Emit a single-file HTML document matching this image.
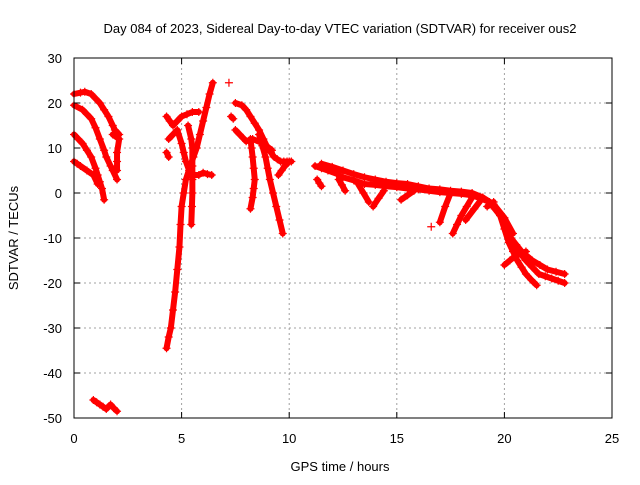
<!DOCTYPE html>
<html><head><meta charset="utf-8"><style>
body{margin:0;background:#fff}
text{font-family:"Liberation Sans",sans-serif;font-size:13px;fill:#000}
</style></head><body>
<svg id="chart" width="640" height="480" xmlns="http://www.w3.org/2000/svg">
<rect width="640" height="480" fill="#fff"/>
<text x="340" y="33" text-anchor="middle">Day 084 of 2023, Sidereal Day-to-day VTEC variation (SDTVAR) for receiver ous2</text>
<g id="grid"></g>
<g id="series"></g>
<rect x="74" y="58" width="538" height="360" fill="none" stroke="#000" stroke-width="1"/>
<g id="ticks"></g>
<text x="340" y="471" text-anchor="middle">GPS time / hours</text>
<text x="18" y="238" text-anchor="middle" transform="rotate(-90 18 238)">SDTVAR / TECUs</text>
</svg>
<script>
const xTicks=[0,5,10,15,20,25];
const yTicks=[30,20,10,0,-10,-20,-30,-40,-50];
const tracks=[
[[0,22],[0.3,22.3],[0.5,22.5],[0.8,22],[1.0,21],[1.2,20],[1.4,18.5],[1.6,17],[1.8,15],[1.9,14],[2.1,13]],
[[0,19.5],[0.4,18.5],[0.6,17.5],[0.8,16.5],[1.0,14.5],[1.2,12],[1.4,9.5],[1.5,8],[1.7,6],[1.8,5],[2.0,3]],
[[0,13],[0.2,12],[0.4,11],[0.6,9.5],[0.8,8],[1.0,5.5],[1.1,4],[1.2,2.5],[1.3,1],[1.4,-1.5]],
[[0,7],[0.15,6.5],[0.3,6],[0.6,5],[0.9,4],[1.1,2]],
[[1.8,13],[2.1,12],[2.0,9],[2.0,7],[2.0,5]],
[[0.9,-46],[1.05,-46.5],[1.2,-47],[1.35,-47.5],[1.5,-48],[1.7,-47],[1.85,-47.8],[2.0,-48.5]],
[[4.3,-34.5],[4.4,-32],[4.5,-30],[4.6,-26],[4.7,-22],[4.8,-17],[4.9,-12],[4.95,-7],[5.0,-3],[5.1,0],[5.2,3],[5.4,6],[5.55,8],[5.7,10],[5.85,13],[6.0,16],[6.15,19],[6.3,22],[6.45,24.5]],
[[4.3,17],[4.45,16],[4.6,15],[4.8,16],[5.0,17],[5.25,17.5],[5.5,18],[5.8,18]],
[[4.4,12],[4.6,13],[4.8,14],[5.0,11],[5.1,9],[5.2,7],[5.35,5],[5.5,4]],
[[5.3,15],[5.45,12],[5.5,10],[5.5,6],[5.5,3],[5.5,0],[5.48,-3],[5.45,-7]],
[[5.4,4],[5.6,4],[5.8,4],[6.0,4.5],[6.2,4.2],[6.4,4]],
[[4.3,9],[4.4,8]],
[[7.2,24.5]],[[7.3,17],[7.4,16.5]],
[[7.5,20],[7.8,19.5],[8.0,18.5],[8.2,17],[8.4,15.5],[8.6,14],[8.8,12],[9.0,10],[9.15,9],[9.3,8],[9.45,7.5],[9.6,7],[9.75,7],[9.9,7]],
[[8.2,12],[8.25,10],[8.3,8],[8.35,5.5],[8.4,3],[8.35,1],[8.3,-1],[8.2,-3.5]],
[[8.6,13],[8.75,10.5],[8.9,8],[9.0,5.5],[9.1,3],[9.25,0],[9.4,-3],[9.55,-6],[9.7,-9]],
[[7.5,14],[7.7,13],[8.0,11.5],[8.3,12],[8.8,11],[9.2,9.5]],
[[9.5,4],[9.65,5],[9.8,6],[10.0,7],[10.1,7]],
[[11.2,6],[11.5,5.5],[11.8,5],[12.2,4.3],[12.5,3.5],[13.0,2.8],[13.5,2],[14.0,1.8],[14.5,1.5],[15.0,1.3],[15.5,1],[16.0,0.8],[16.5,0.5],[17.0,0.2],[17.5,0],[18.0,-0.2],[18.5,-0.5],[18.9,-1.2],[19.3,-2],[19.55,-3.5],[19.8,-5],[20.05,-7.5],[20.3,-10],[20.55,-11.5],[20.8,-13],[21.05,-14],[21.3,-15],[21.65,-16],[22.0,-17],[22.4,-17.5],[22.8,-18]],
[[11.5,6.5],[12.0,5.8],[12.5,5],[13.0,4.2],[13.5,3.5],[14.0,3],[14.5,2.5],[15.0,2.2],[15.5,2],[16.0,1.5],[16.5,1],[17.0,0.8],[17.5,0.5],[18.0,0.3],[18.5,0],[19.0,-1],[19.5,-2.5],[20.0,-5.5],[20.4,-9]],
[[19.8,-5],[20.0,-8],[20.2,-11],[20.4,-13],[20.6,-15],[20.8,-16.5],[21.0,-18],[21.25,-19.3],[21.5,-20.5]],
[[20.5,-12],[20.75,-13.5],[21.0,-15],[21.3,-16.5],[21.6,-18],[21.9,-18.5],[22.2,-19],[22.5,-19.5],[22.8,-20]],
[[20.0,-16],[20.25,-15],[20.5,-14],[20.75,-13.5],[21.0,-13]],
[[11.3,3],[11.4,2.2],[11.5,1.5]],
[[12.3,3],[12.45,1.8],[12.6,0.5]],
[[13.2,2],[13.45,0],[13.7,-2]],
[[14.4,0.5],[14.15,-1.2],[13.9,-3]],
[[15.8,0.5],[15.5,-0.5],[15.2,-1.5]],
[[17.5,0],[17.25,-3],[17.0,-6.5]],
[[16.6,-7.5]],
[[18.5,-1],[18.25,-3],[18.0,-5],[17.8,-7],[17.6,-9]],
[[19.0,-1],[18.6,-3.5],[18.2,-6]],
[[19.5,-2],[19.2,-3]]
];
const NS='http://www.w3.org/2000/svg';
const X=h=>74+h*538/25, Y=v=>58+(30-v)*360/80;
const grid=document.getElementById('grid'),ticks=document.getElementById('ticks'),ser=document.getElementById('series');
function mk(tag,attrs,parent){const e=document.createElementNS(NS,tag);for(const k in attrs)e.setAttribute(k,attrs[k]);parent.appendChild(e);return e;}
xTicks.forEach(t=>{
 if(t>0&&t<25){const g=mk('line',{x1:X(t),x2:X(t),y1:58,y2:418,stroke:'#a0a0a0','stroke-dasharray':'2,3'},grid);
 
 }
 const l=mk('text',{x:X(t),y:443,'text-anchor':'middle'},ticks);l.textContent=t;
 
 
 mk('line',{x1:X(t),x2:X(t),y1:418,y2:412,stroke:'#000'},ticks);
 mk('line',{x1:X(t),x2:X(t),y1:58,y2:64,stroke:'#000'},ticks);
});
yTicks.forEach(t=>{
 if(t<30&&t>-50){const g=mk('line',{x1:74,x2:612,y1:Y(t),y2:Y(t),stroke:'#a0a0a0','stroke-dasharray':'2,3'},grid);
 
 }
 const l=mk('text',{x:62,y:Y(t)+5,'text-anchor':'end'},ticks);l.textContent=t;
 
 
 mk('line',{x1:74,x2:80,y1:Y(t),y2:Y(t),stroke:'#000'},ticks);
 mk('line',{x1:612,x2:606,y1:Y(t),y2:Y(t),stroke:'#000'},ticks);
});
tracks.forEach(tr=>{
 const g=mk('g',{},ser);
 
 
 if(tr.length>1){mk('polyline',{points:tr.map(p=>X(p[0])+','+Y(p[1])).join(' '),fill:'none',stroke:'#f00','stroke-width':6,'stroke-linejoin':'round','stroke-linecap':'round'},g);}
 tr.forEach(p=>{const x=X(p[0]),y=Y(p[1]);
  const m=mk('path',{d:`M${x-4},${y}H${x+4}M${x},${y-4}V${y+4}`,stroke:'#f00','stroke-width':1.2},g);
  
  });
});
</script>
</body></html>
